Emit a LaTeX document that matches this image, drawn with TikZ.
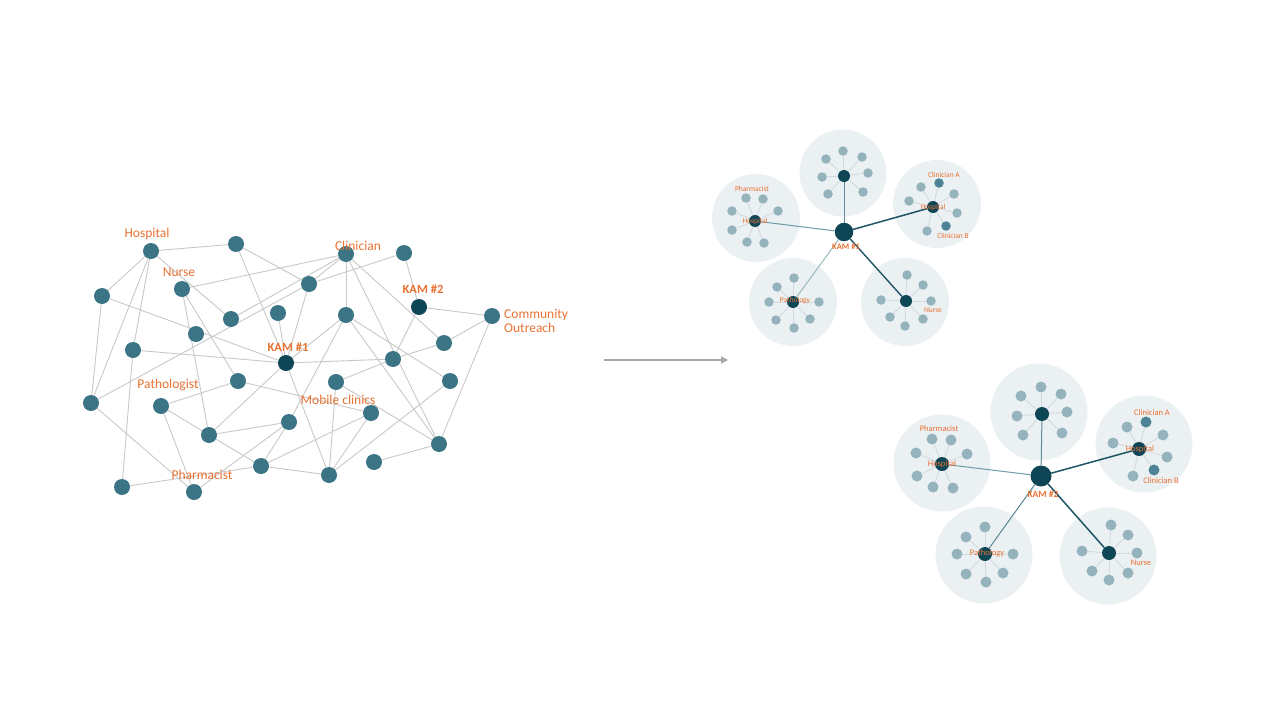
\documentclass[tikz,border=0pt]{standalone}
\usepackage{fontspec}
\setmainfont{Carlito}
\usetikzlibrary{arrows.meta}
\pgfdeclarelayer{bubbles}
\pgfdeclarelayer{edges}
\pgfsetlayers{bubbles,edges,main}
\definecolor{orng}{HTML}{E97132}
\definecolor{tealn}{HTML}{3B7585}
\definecolor{darkn}{HTML}{0E4656}
\definecolor{leafc}{HTML}{94B3BD}
\definecolor{midc}{HTML}{4D8394}
\definecolor{bubc}{HTML}{EBF0F3}
\definecolor{edgec}{HTML}{C8C8C8}
\definecolor{spokec}{HTML}{D3D9DC}
\definecolor{arrc}{HTML}{A6A6A6}
\definecolor{strongc}{HTML}{1F5665}
\definecolor{softc}{HTML}{6E9AA5}
\newcommand\mycluster[6]{%
  \begin{pgfonlayer}{bubbles}\node[bubble,minimum size=#3] (#1c) at #2 {};\end{pgfonlayer}
  \node[hub,minimum size=#5] (#1h) at #4 {};
  \foreach \x/\y/\c [count=\i] in {#6} {
    \node[leaf,fill=\c] (#1l\i) at (\x,\y) {};
    \begin{pgfonlayer}{edges}\draw[spoke] (#1h) -- (#1l\i);\end{pgfonlayer}
  }%
}
\begin{document}
\begin{tikzpicture}[x=1pt,y=-1pt,
  net/.style={circle,fill=tealn,inner sep=0pt,minimum size=16pt},
  kam/.style={net,fill=darkn},
  lab/.style={text=orng,font=\fontsize{13.5}{14}\selectfont,inner sep=0pt},
  kamlab/.style={text=orng,font=\fontsize{12.5}{14}\selectfont\bfseries,inner sep=0pt},
  slab/.style={text=orng,font=\fontsize{7.5}{8}\selectfont,inner sep=0pt},
  blab/.style={text=orng,font=\fontsize{8.5}{9}\selectfont,inner sep=0pt},
  link/.style={draw=edgec,line width=0.9pt},
  bubble/.style={circle,fill=bubc,inner sep=0pt},
  hub/.style={circle,fill=darkn,inner sep=0pt},
  leaf/.style={circle,inner sep=0pt,minimum size=\leafd},
  spoke/.style={draw=spokec,line width=0.9pt},
  center/.style={circle,fill=darkn,inner sep=0pt},
  strong/.style={draw=strongc,line width=1.5pt},
  soft/.style={draw=softc,line width=1pt}
]
\useasboundingbox (0,0) rectangle (1280,720);

% ---------------- left network ----------------
\foreach \n/\x/\y in {1/151/251,2/236/244,3/102/296,4/182/289,5/346/254,6/404/253,
  7/309/284,8/231/319,9/278/313,10/196/334,11/133/350,12/346/315,14/492/316,
  16/444/343,17/393/359,18/238/381,19/336/382,20/450/381,21/91/403,22/161/406,
  23/209/435,24/289/422,25/371/413,26/439/444,27/374/462,28/261/466,29/329/475,
  30/122/487,31/194/492}
  {\node[net] (n\n) at (\x,\y) {};}
\node[kam] (n13) at (419,307) {};
\node[kam] (n15) at (286,363) {};

\begin{pgfonlayer}{edges}
\foreach \a/\b in {1/2,1/3,1/11,1/21,1/8,3/15,3/21,2/7,2/15,4/5,4/18,4/23,
  5/7,5/8,5/12,5/26,5/16,6/7,6/13,7/15,7/21,9/15,12/15,12/20,12/24,12/26,
  13/14,13/17,14/16,14/26,15/17,15/11,15/23,15/29,16/17,17/19,18/22,18/25,
  19/26,19/29,20/29,22/23,22/31,21/31,23/24,23/28,24/28,24/31,25/28,25/29,
  26/27,28/29,28/30,30/11}
  {\draw[link] (n\a) -- (n\b);}
\end{pgfonlayer}

\node[lab] (tHosp) at (147,234) {Hospital};
\node[lab] (tNurse) at (179,272) {Nurse};
\node[lab] (tClin) at (358,246) {Clinician};
\node[kamlab] (tK2) at (423,289) {KAM \#2};
\node[lab,anchor=west,align=left] (tComm) at (504,321) {Community\\Outreach};
\node[kamlab] (tK1) at (288,347) {KAM \#1};
\node[lab] (tPath) at (168,385) {Pathologist};
\node[lab] (tMob) at (338,400) {Mobile clinics};
\node[lab] (tPharm) at (202,475) {Pharmacist};

% ---------------- arrow ----------------
\coordinate (arrA) at (604,360);
\coordinate (arrB) at (728,360);
\draw[draw=arrc,line width=1.5pt,-{Triangle[length=7pt,width=7pt]}] (arrA) -- (arrB);

% ---------------- KAM #1 cluster ----------------
\def\leafd{9.5pt}
\mycluster{a}{(843,173)}{87pt}{(844,176)}{12pt}{843/151/leafc,862/157/leafc,868/173/leafc,863/192/leafc,828/194/leafc,822/177/leafc,826/159/leafc}
\mycluster{b}{(937,204)}{88pt}{(933,207)}{12pt}{939/183/midc,921/187/leafc,909/201/leafc,954/194/leafc,957/213/leafc,946/226/midc,927/231/leafc}
\mycluster{c}{(756,218)}{88pt}{(755,221)}{12pt}{746/198/leafc,763/199/leafc,732/211/leafc,778/211/leafc,732/230/leafc,747/242/leafc,764/243/leafc}
\mycluster{d}{(793,302)}{88pt}{(793,302)}{12pt}{794/278/leafc,777/287/leafc,769/302/leafc,819/302/leafc,776/320/leafc,810/319/leafc,794/328/leafc}
\mycluster{e}{(905,302)}{88pt}{(906,301)}{12pt}{907/275/leafc,923/285/leafc,931/301/leafc,881/300/leafc,890/317/leafc,923/319/leafc,905/326/leafc}
\node[center,minimum size=18.5pt] (K1) at (844,232) {};
\begin{pgfonlayer}{edges}
\draw[soft,draw=softc!80!strongc] (K1) -- (ah);
\draw[strong] (K1) -- (bh);
\draw[soft] (K1) -- (ch);
\draw[soft,draw=softc!70!white] (K1) -- (dh);
\draw[strong,line width=1.4pt] (K1) -- (eh);
\end{pgfonlayer}
\node[slab,font=\fontsize{8.5}{9}\selectfont\bfseries] (tK1r) at (846,247) {KAM \#1};
\node[slab] (tbA) at (944,175) {Clinician A};
\node[slab] (tbH) at (933,207) {Hospital};
\node[slab] (tbB) at (953,236) {Clinician B};
\node[slab] (tcP) at (752,189) {Pharmacist};
\node[slab] (tcH) at (755,221) {Hospital};
\node[slab] (tdP) at (795,301) {Pathology};
\node[slab] (teN) at (933,310) {Nurse};

% ---------------- KAM #2 cluster ----------------
\def\leafd{11pt}
\mycluster{f}{(1039,412)}{97pt}{(1042,414)}{14pt}{1041/387/leafc,1061/394/leafc,1067/412/leafc,1062/433/leafc,1023/435/leafc,1017/416/leafc,1021/396/leafc}
\mycluster{g}{(1144,444)}{97pt}{(1139,449)}{14pt}{1146/422/midc,1127/427/leafc,1113/443/leafc,1163/435/leafc,1167/457/leafc,1154/470/midc,1133/476/leafc}
\mycluster{h}{(942,463)}{97pt}{(942,464)}{14pt}{932/439/leafc,951/440/leafc,967/454/leafc,916/453/leafc,917/476/leafc,933/487/leafc,953/488/leafc}
\mycluster{i}{(984,555)}{97pt}{(985,554)}{14pt}{985/527/leafc,966/537/leafc,957/554/leafc,1013/554/leafc,966/574/leafc,1003/573/leafc,986/582/leafc}
\mycluster{j}{(1108,556)}{97pt}{(1109,553)}{14pt}{1111/525/leafc,1128/535/leafc,1137/553/leafc,1082/551/leafc,1092/571/leafc,1128/573/leafc,1109/580/leafc}
\node[center,minimum size=21pt] (K2) at (1041,476) {};
\begin{pgfonlayer}{edges}
\draw[soft,draw=softc!80!strongc] (K2) -- (fh);
\draw[strong] (K2) -- (gh);
\draw[soft] (K2) -- (hh);
\draw[soft,draw=softc!70!strongc] (K2) -- (ih);
\draw[strong] (K2) -- (jh);
\end{pgfonlayer}
\node[blab,font=\fontsize{9.5}{10}\selectfont\bfseries] (tK2r) at (1043,494) {KAM \#2};
\node[blab] (tgA) at (1152,413) {Clinician A};
\node[blab] (tgH) at (1140,449) {Hospital};
\node[blab] (tgB) at (1161,481) {Clinician B};
\node[blab] (thP) at (939,429) {Pharmacist};
\node[blab] (thH) at (942,464) {Hospital};
\node[blab] (tiP) at (987,553) {Pathology};
\node[blab] (tjN) at (1141,563) {Nurse};
\end{tikzpicture}
\end{document}
